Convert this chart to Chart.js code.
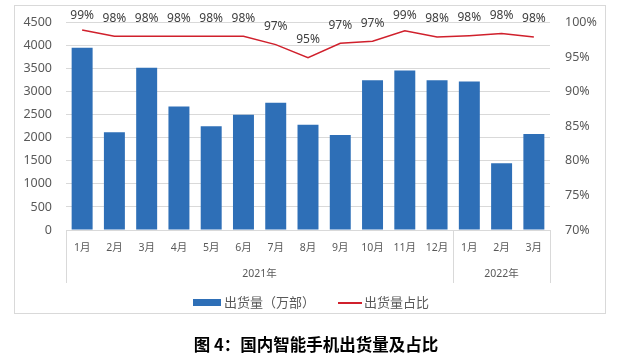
<!DOCTYPE html>
<html>
<head>
<meta charset="utf-8">
<script src="https://cdn.jsdelivr.net/npm/chart.js@4.4.1/dist/chart.umd.min.js"></script>
<style>
  body { margin: 0; background: #fff; font-family: "Noto Sans", "Noto Sans CJK SC", sans-serif; }
  #wrap { position: relative; width: 641px; height: 358px; overflow: hidden; }
  #frame { position: absolute; left: 14px; top: 5px; width: 590px; height: 307px; border: 1px solid #d9d9d9; }
  #chart { position: absolute; left: 0; top: 0; }
  .lg { position: absolute; }
  .lgtext { position: absolute; top: 293px; font-size: 13px; color: #595959; line-height: 18px; white-space: nowrap; }
  #title { position: absolute; left: 0; width: 632px; top: 332px; text-align: center;
           font-family: "Noto Sans CJK SC", sans-serif; font-weight: bold; font-size: 16.5px; color: #000; }
</style>
</head>
<body>
<div id="wrap">
  <div id="frame"></div>
  <canvas id="chart" width="641" height="358"></canvas>
  <div class="lg" style="left:193px;top:299px;width:28px;height:7px;background:#2E6FB7"></div>
  <div class="lgtext" style="left:224px">出货量（万部）</div>
  <div class="lg" style="left:338px;top:302px;width:24px;height:2px;background:#D0202C"></div>
  <div class="lgtext" style="left:364px">出货量占比</div>
  <div id="title">图 4：国内智能手机出货量及占比</div>
</div>
<script>
// months (x categories) and the year groups under them
const monthLabels = ['1月', '2月', '3月', '4月', '5月', '6月', '7月', '8月', '9月', '10月', '11月', '12月', '1月', '2月', '3月'];
const yearLabels = ['2021年', '2022年'];
const yearSpans = [12, 3];

// shipments (10k units) and share (%)
const shipments = [3950, 2120, 3520, 2680, 2250, 2500, 2760, 2280, 2060, 3250, 3460, 3250, 3220, 1450, 2080];
const sharePct = [98.9, 98.0, 98.0, 98.0, 98.0, 98.0, 96.8, 94.9, 97.0, 97.3, 98.8, 97.9, 98.1, 98.4, 97.9];

const tickColor = '#595959';
const gridColor = '#d9d9d9';

// year labels + divider lines under the month axis
const yearGroupPlugin = {
    id: 'yearGroups',
    afterDraw(chart) {
        const ctx = chart.ctx;
        const x = chart.scales.x;
        const step = x.width / monthLabels.length;
        let start = 0;
        ctx.save();
        ctx.strokeStyle = gridColor;
        ctx.lineWidth = 1;
        ctx.fillStyle = tickColor;
        ctx.font = '10.5px "Noto Sans", "Noto Sans CJK SC", sans-serif';
        ctx.textAlign = 'center';
        ctx.textBaseline = 'middle';
        const drawDivider = (px) => {
            ctx.beginPath();
            ctx.moveTo(Math.round(px) + 0.5, x.top);
            ctx.lineTo(Math.round(px) + 0.5, x.top + 53);
            ctx.stroke();
        };
        drawDivider(x.left);
        yearSpans.forEach((span, i) => {
            const end = start + span;
            const left = x.left + start * step;
            const right = x.left + end * step;
            drawDivider(right);
            ctx.fillText(yearLabels[i], (left + right) / 2, x.top + 44);
            start = end;
        });
        ctx.restore();
    }
};

// percent labels above the share line
const shareLabelPlugin = {
    id: 'shareLabels',
    afterDatasetsDraw(chart) {
        const ctx = chart.ctx;
        const meta = chart.getDatasetMeta(1);
        ctx.save();
        ctx.fillStyle = '#404040';
        ctx.font = '12px "Noto Sans", "Noto Sans CJK SC", sans-serif';
        ctx.textAlign = 'center';
        ctx.textBaseline = 'middle';
        meta.data.forEach((pt, i) => {
            const y = Math.max(pt.y - 18, 15.5);
            ctx.fillText(Math.round(sharePct[i]) + '%', pt.x, y);
        });
        ctx.restore();
    }
};

const ctx = document.getElementById('chart').getContext('2d');
new Chart(ctx, {
    data: {
        labels: monthLabels,
        datasets: [
            {
                type: 'bar',
                label: '出货量（万部）',
                data: shipments,
                backgroundColor: '#2E6FB7',
                barPercentage: 0.65,
                categoryPercentage: 1,
                yAxisID: 'y',
                order: 1
            },
            {
                type: 'line',
                label: '出货量占比',
                data: sharePct,
                borderColor: '#D0202C',
                borderWidth: 1.5,
                pointRadius: 0,
                tension: 0,
                yAxisID: 'y1',
                order: 0
            }
        ]
    },
    options: {
        responsive: false,
        animation: false,
        layout: { padding: { top: 20, left: 0, right: 0, bottom: 0 } },
        plugins: {
            legend: { display: false },
            tooltip: { enabled: false }
        },
        scales: {
            x: {
                offset: true,
                grid: { display: false, drawTicks: false },
                border: { color: gridColor },
                ticks: {
                    color: tickColor,
                    font: { size: 10.5, family: '"Noto Sans", "Noto Sans CJK SC", sans-serif' },
                    padding: 12,
                    maxRotation: 0,
                    autoSkip: false
                },
                afterFit: s => { s.height = 128; }
            },
            y: {
                position: 'left',
                min: 0,
                max: 4500,
                grid: { color: gridColor, drawTicks: false },
                border: { display: false },
                ticks: {
                    stepSize: 500,
                    color: tickColor,
                    font: { size: 12.5, family: '"Noto Sans", sans-serif' },
                    padding: 14,
                    callback: v => String(v)
                },
                afterFit: s => { s.width = 66; }
            },
            y1: {
                position: 'right',
                min: 70,
                max: 100,
                grid: { display: false, drawTicks: false },
                border: { display: false },
                ticks: {
                    stepSize: 5,
                    color: tickColor,
                    font: { size: 12.5, family: '"Noto Sans", sans-serif' },
                    padding: 15,
                    callback: v => v + '%'
                },
                afterFit: s => { s.width = 91; }
            }
        }
    },
    plugins: [yearGroupPlugin, shareLabelPlugin]
});
</script>
</body>
</html>
